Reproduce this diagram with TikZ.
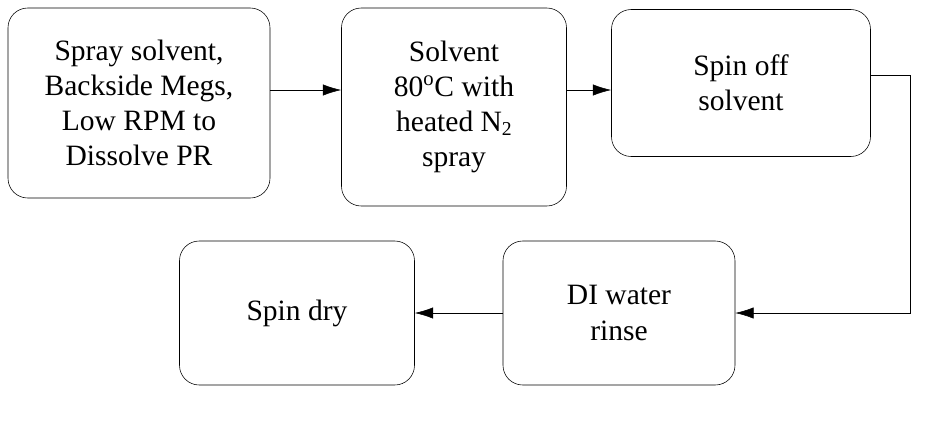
\documentclass[tikz,border=0pt]{standalone}
\usepackage{fontspec}
\setmainfont{Liberation Serif}
\usetikzlibrary{arrows.meta}
\tikzset{
  stage/.style={draw,rounded corners=14pt,align=center,font=\fontsize{21}{25}\selectfont},
  flow/.style={-{Latex[length=13pt,width=8pt]},thin}
}
\begin{document}
\begin{tikzpicture}[x=0.025cm,y=-0.025cm]
\useasboundingbox (0,0) rectangle (930,424);

% stages
\node[stage,minimum width=262*0.025cm,minimum height=190*0.025cm] (spray) at (139,103)
  {Spray solvent,\\Backside Megs,\\Low RPM to\\Dissolve PR};
\node[stage,minimum width=225*0.025cm,minimum height=198*0.025cm] (heat) at (454,107)
  {Solvent\\80\textsuperscript{o}C with\\heated N\raisebox{-0.25ex}{\fontsize{14}{14}\selectfont 2}\\spray};
\node[stage,minimum width=259*0.025cm,minimum height=147*0.025cm] (spin) at (741,83)
  {Spin off\\solvent};
\node[stage,minimum width=232*0.025cm,minimum height=144*0.025cm] (rinse) at (619,313)
  {DI water\\rinse};
\node[stage,minimum width=235*0.025cm,minimum height=144*0.025cm] (dry) at (297,313)
  {Spin dry};

% connectors
\coordinate (c1) at (910,75);
\coordinate (c2) at (910,313);
\draw[flow] (spray.east |- 0,90) -- (heat.west |- 0,90);
\draw[flow] (heat.east |- 0,90) -- (spin.west |- 0,90);
\draw[flow] (spin.east |- c1) -- (c1) -- (c2) -- (rinse.east);
\draw[flow] (rinse.west) -- (dry.east);
\end{tikzpicture}
\end{document}
